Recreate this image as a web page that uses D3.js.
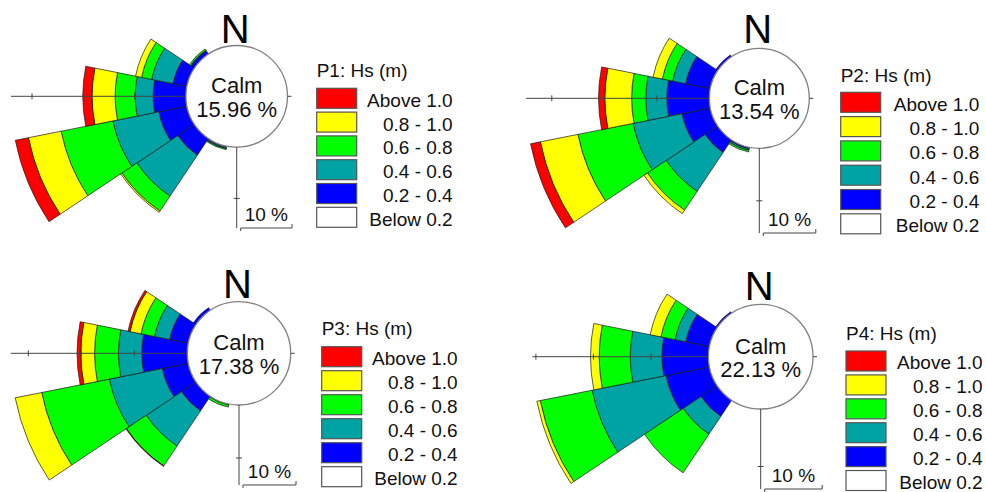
<!DOCTYPE html>
<html>
<head>
<meta charset="utf-8">
<script src="https://cdn.jsdelivr.net/npm/d3@7"></script>
<style>
    body { margin: 0; background: #fff; }
    svg { display: block; font-family: "Liberation Sans", Arial, sans-serif; }
</style>
</head>
<body>
<svg id="chart" width="986" height="492"></svg>
<script>
// compass sectors, 22.5 deg each, clockwise from north
var compass = ["N", "NNE", "NE", "ENE", "E", "ESE", "SE", "SSE",
               "S", "SSW", "SW", "WSW", "W", "WNW", "NW", "NNW"];
// only these directions have any waves, all others are 0 %
var directions = ["SSW", "SW", "WSW", "W", "WNW", "NW"];
var classes = ["Below 0.2", "0.2 - 0.4", "0.4 - 0.6", "0.6 - 0.8", "0.8 - 1.0", "Above 1.0"];
var panelNames = ["P1", "P2", "P3", "P4"];
var calmPct = [15.96, 13.54, 17.38, 22.13];

// frequency (%) per Hs class, in the order of `directions`
var p1Hs00 = [0, 0, 0, 0, 0, 0];
var p1Hs02 = [0.3, 3.9, 5.6, 6.4, 2.8, 0.8];
var p1Hs04 = [0.2, 9.6, 9.1, 3.5, 4.2, 0.1];
var p1Hs06 = [0.2, 3.5, 10.3, 3.9, 2.0, 0.3];
var p1Hs08 = [0, 0.3, 6.5, 4.5, 1.2, 0];
var p1Hs10 = [0, 0, 2.6, 1.8, 0, 0];

var p2Hs00 = [0, 0, 0, 0, 0, 0];
var p2Hs02 = [0.3, 2.9, 5.5, 8.1, 4.8, 0.4];
var p2Hs04 = [0.3, 8.9, 9.5, 4.0, 2.5, 0];
var p2Hs06 = [0.3, 4.3, 10.7, 2.7, 2.0, 0];
var p2Hs08 = [0, 0.8, 7.3, 5.1, 1.8, 0];
var p2Hs10 = [0, 0, 1.9, 1.2, 0, 0];

var p3Hs00 = [0, 0, 0, 0, 0, 0];
var p3Hs02 = [0.1, 3.3, 5.0, 8.6, 3.6, 0.6];
var p3Hs04 = [0.1, 8.0, 10.2, 4.4, 2.9, 0];
var p3Hs06 = [0.4, 4.5, 13.0, 4.5, 2.6, 0];
var p3Hs08 = [0, 0, 5.1, 2.6, 2.1, 0];
var p3Hs10 = [0, 0.1, 0, 0.7, 0.4, 0];

var p4Hs00 = [0, 0, 0, 0, 0, 0];
var p4Hs02 = [0, 3.4, 7.7, 8.1, 4.2, 0.3];
var p4Hs04 = [0, 3.7, 13.1, 5.5, 1.9, 0];
var p4Hs06 = [0, 8.1, 9.2, 5.4, 2.5, 0];
var p4Hs08 = [0, 0, 0.6, 1.5, 1.9, 0];
var p4Hs10 = [0, 0, 0, 0, 0, 0];

var panelSeries = [
    [p1Hs00, p1Hs02, p1Hs04, p1Hs06, p1Hs08, p1Hs10],
    [p2Hs00, p2Hs02, p2Hs04, p2Hs06, p2Hs08, p2Hs10],
    [p3Hs00, p3Hs02, p3Hs04, p3Hs06, p3Hs08, p3Hs10],
    [p4Hs00, p4Hs02, p4Hs04, p4Hs06, p4Hs08, p4Hs10]
];

var colors = ["#ffffff", "#0000ff", "#00a3a3", "#00ff00", "#ffff00", "#ff0000"];

// where each rose sits (every panel was exported with its own scale)
var layout = [
    { cx: 236.7, cy: 96.3,  r0: 50.8, px10: 51.3, barY: 228, nY: 43.3,
      lx: 316.7, ly: 88.3,  pitch: 23.8, lr: 452.7, ty: 77.3 },
    { cx: 759.3, cy: 98.3,  r0: 50.0, px10: 52.5, barY: 233, nY: 42.7,
      lx: 840.7, ly: 92.3,  pitch: 24.3, lr: 979.3, ty: 81.7 },
    { cx: 239.0, cy: 353.3, r0: 51.7, px10: 53.0, barY: 485, nY: 298.3,
      lx: 321.7, ly: 346.7, pitch: 24.0, lr: 457.7, ty: 335 },
    { cx: 760.7, cy: 356.7, r0: 52.3, px10: 57.5, barY: 489, nY: 300,
      lx: 846.0, ly: 351.0, pitch: 23.9, lr: 982.7, ty: 340 }
];

var svg = d3.select("#chart");
var half = Math.PI / 16;

function drawRose(i) {
    var L = layout[i];
    var series = panelSeries[i];

    var rows = directions.map(function(d, j) {
        var row = { dir: d };
        classes.forEach(function(c, k) { row[c] = series[k][j]; });
        return row;
    });
    var stacked = d3.stack().keys(classes)(rows);
    var maxPct = d3.max(rows, function(r) { return d3.sum(classes, function(c) { return r[c]; }); });

    var r = d3.scaleLinear().domain([0, 10]).range([L.r0, L.r0 + L.px10]);
    var arc = d3.arc();

    var g = svg.append("g").attr("transform", "translate(" + L.cx + "," + L.cy + ")");

    stacked.forEach(function(layer, k) {
        g.append("g").selectAll("path")
            .data(layer.filter(function(d) { return d[1] - d[0] > 0; }))
            .join("path")
            .attr("d", function(d) {
                var a = compass.indexOf(d.data.dir) * Math.PI / 8;
                return arc({
                    innerRadius: r(d[0]), outerRadius: r(d[1]),
                    startAngle: a - half, endAngle: a + half
                });
            })
            .attr("fill", colors[k])
            .attr("stroke", "#1a1a1a")
            .attr("stroke-width", 0.7);
    });

    // calm circle
    g.append("circle").attr("r", L.r0)
        .attr("fill", "#fff").attr("stroke", "#808080").attr("stroke-width", 1.3);
    g.append("text").attr("y", -3).attr("text-anchor", "middle")
        .attr("font-size", 22).attr("fill", "#111").text("Calm");
    g.append("text").attr("y", 20.4).attr("text-anchor", "middle")
        .attr("font-size", 22).attr("fill", "#111").text(calmPct[i].toFixed(2) + " %");

    // west axis up to the longest sector, south axis down to the scale bar
    var axis = g.append("g").attr("stroke", "#444").attr("stroke-width", 1);
    axis.append("line").attr("x1", -L.r0).attr("x2", -r(maxPct)).attr("y1", 0).attr("y2", 0);
    axis.selectAll("line.wt").data(d3.range(10, maxPct + 0.01, 10)).join("line")
        .attr("class", "wt")
        .attr("x1", function(t) { return -r(t); }).attr("x2", function(t) { return -r(t); })
        .attr("y1", -3).attr("y2", 3);
    axis.append("line").attr("x1", L.r0).attr("x2", L.r0 + 4).attr("y1", 0).attr("y2", 0);
    axis.append("line").attr("x1", 0).attr("x2", 0).attr("y1", L.r0).attr("y2", L.barY - L.cy);
    axis.selectAll("line.st").data(d3.range(10, (L.barY - L.cy - L.r0) / L.px10 * 10, 10)).join("line")
        .attr("class", "st")
        .attr("x1", -3).attr("x2", 3)
        .attr("y1", function(t) { return r(t); }).attr("y2", function(t) { return r(t); });

    // 10 % scale bar
    var bx0 = 4, bx1 = 4 + r(10) - r(0), by = L.barY - L.cy;
    axis.append("line").attr("x1", bx0).attr("x2", bx1).attr("y1", by).attr("y2", by);
    axis.append("line").attr("x1", bx0).attr("x2", bx0).attr("y1", by).attr("y2", by + 3);
    axis.append("line").attr("x1", bx1).attr("x2", bx1).attr("y1", by - 4).attr("y2", by);
    g.append("text").attr("x", (bx0 + bx1) / 2).attr("y", by - 6.5)
        .attr("text-anchor", "middle").attr("font-size", 19).attr("fill", "#111").text("10 %");

    svg.append("text").attr("x", L.cx - 1.5).attr("y", L.nY).attr("text-anchor", "middle")
        .attr("font-size", 40).attr("fill", "#000").text("N");

    // legend
    var lg = svg.append("g");
    lg.append("text").attr("x", L.lx).attr("y", L.ty).attr("font-size", 19).attr("fill", "#111")
        .text(panelNames[i] + ": Hs (m)");
    var items = classes.slice().reverse();
    var cols = colors.slice().reverse();
    lg.selectAll("rect").data(items).join("rect")
        .attr("x", L.lx).attr("y", function(d, j) { return L.ly + j * L.pitch; })
        .attr("width", 40).attr("height", 20)
        .attr("fill", function(d, j) { return cols[j]; })
        .attr("stroke", "#555").attr("stroke-width", 1.2);
    lg.selectAll("text.lab").data(items).join("text")
        .attr("class", "lab")
        .attr("x", L.lr).attr("y", function(d, j) { return L.ly + j * L.pitch + 18.4; })
        .attr("text-anchor", "end").attr("font-size", 19).attr("fill", "#111")
        .text(function(d) { return d; });
}

panelNames.forEach(function(p, i) { drawRose(i); });
</script>
</body>
</html>
